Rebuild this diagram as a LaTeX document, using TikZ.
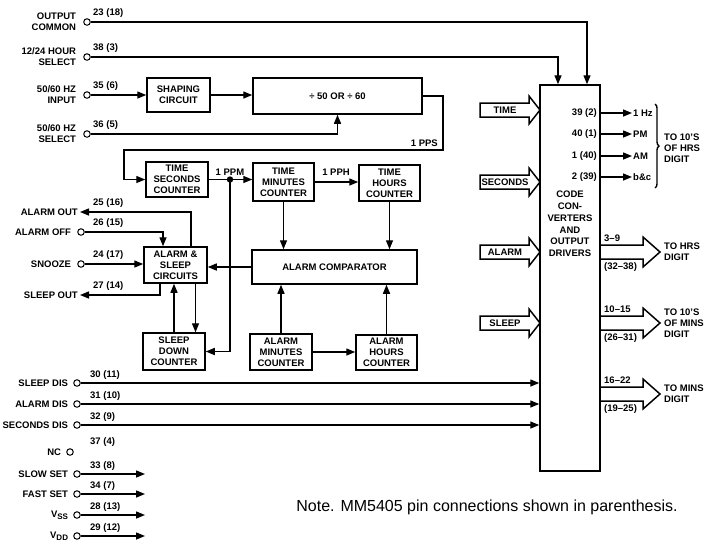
\documentclass[tikz,border=0pt]{standalone}
\usepackage{fontspec}
\setmainfont{Liberation Sans}
\usetikzlibrary{positioning,arrows.meta,decorations.pathreplacing}
\newcommand{\lbl}{\fontsize{9.5}{11}\selectfont\bfseries}
\newcommand{\subs}[1]{\raisebox{-2pt}{\fontsize{8}{9}\selectfont #1}}

\tikzset{
  blk/.style={draw,line width=1.5pt,align=center,font=\lbl,inner sep=1pt},
  pad/.style={circle,draw,line width=1pt,fill=white,inner sep=0pt,minimum size=6.5pt},
  txt/.style={font=\lbl,inner sep=1pt},
  wire/.style={line width=1.4pt},
  arr/.style={wire,-{Triangle[length=9pt,width=7pt]}},
  fat/.style={line width=1.5pt,line join=miter},
}

\begin{document}
\begin{tikzpicture}[x=1pt,y=-1pt]
\useasboundingbox (0,0) rectangle (705,542);

% blocks
\node[blk,minimum width=63pt,minimum height=34pt] (shape) at (178.5,95) {SHAPING\\CIRCUIT};
\node[blk,minimum width=169pt,minimum height=36pt] (div) at (337.5,96) {÷ 50 OR ÷ 60};
\node[blk,minimum width=62pt,minimum height=35pt] (tsec) at (177,179.5) {TIME\\SECONDS\\COUNTER};
\node[blk,minimum width=61pt,minimum height=38pt] (tmin) at (283.5,182) {TIME\\MINUTES\\COUNTER};
\node[blk,minimum width=61pt,minimum height=36pt] (thr) at (389.5,183) {TIME\\HOURS\\COUNTER};
\node[blk,minimum width=165pt,minimum height=34pt] (comp) at (334.5,267) {ALARM COMPARATOR};
\node[blk,minimum width=63pt,minimum height=36pt] (als) at (175.5,265) {ALARM \&\\SLEEP\\CIRCUITS};
\node[blk,minimum width=62pt,minimum height=37pt] (sdc) at (174,351.5) {SLEEP\\DOWN\\COUNTER};
\node[blk,minimum width=62pt,minimum height=36pt] (amin) at (281,352) {ALARM\\MINUTES\\COUNTER};
\node[blk,minimum width=61pt,minimum height=35pt] (ahr) at (386.5,352.5) {ALARM\\HOURS\\COUNTER};
\node[blk,minimum width=60pt,minimum height=386pt] (cc) at (570,278) {};
\node[txt,align=center,font=\fontsize{9.5}{11.8}\selectfont\bfseries] (cctxt) at (570,224) {CODE\\CON-\\VERTERS\\AND\\OUTPUT\\DRIVERS};

% top input pins
\foreach \nm/\y/\num/\txt in {23/22/{23 (18)}/{OUTPUT\\COMMON}, 38/57/{38 (3)}/{12/24 HOUR\\SELECT},
    35/95/{35 (6)}/{50/60 HZ\\INPUT}, 36/134/{36 (5)}/{50/60 HZ\\SELECT}} {
  \node[pad] (p\nm) at (87,\y) {};
  \node[txt,align=right,left=6pt of p\nm] (l\nm) {\txt};
  \node[txt,anchor=south west] (n\nm) at (92,\y-3) {\num};
}
\draw[arr] (p23.east) -| ([xshift=17pt]cc.north);
\draw[arr] (p38.east) -| ([xshift=-12pt]cc.north);
\draw[arr] (p35.east) -- (shape.west);
\draw[arr] (shape.east) -- (shape.east -| div.west);
\draw[arr] (p36.east) -| (div.south);

% 1 PPS loop
\coordinate (ppsa) at (443,150);
\coordinate (ppsb) at (124,150);
\draw[arr] (div.east) -| (ppsa) -- (ppsb) |- (tsec.west);
\node[txt,anchor=south east] (pps) at (439,148) {1 PPS};

% counters
\coordinate (jpm) at (230,179.5);
\draw[wire] (tsec.east) -- (jpm);
\draw[arr] (jpm) -- (jpm -| tmin.west);
\fill (jpm) circle (3.2pt);
\node[txt,above=3pt of jpm] (ppm) {1 PPM};
\draw[arr] (jpm) |- (sdc.east);
\draw[arr] (tmin.east) -- (tmin.east -| thr.west);
\node[txt] (pph) at (336,172) {1 PPH};
\draw[arr] (tmin.south) -- (tmin.south |- comp.north);
\draw[arr] (thr.south) -- (thr.south |- comp.north);
\draw[arr] (amin.north) -- (amin.north |- comp.south);
\draw[arr] (ahr.north) -- (ahr.north |- comp.south);
\draw[arr] (amin.east) -- (amin.east -| ahr.west);
\draw[arr] (comp.west) -- (comp.west -| als.east);
\draw[arr] ([xshift=20pt]als.south) -- ([xshift=20pt]als.south |- sdc.north);
\draw[arr] (sdc.north) -- (sdc.north |- als.south);

% alarm and sleep pins
\coordinate (aout) at (80,212);
\draw[arr] ([xshift=15.5pt]als.north) |- (aout);
\node[txt,left=1pt of aout] (laout) {ALARM OUT};
\node[txt,anchor=south west] (n25) at (92,209) {25 (16)};
\node[pad] (p26) at (81,232) {};
\node[txt,left=5pt of p26] (l26) {ALARM OFF};
\node[txt,anchor=south west] (n26) at (92,229) {26 (15)};
\draw[arr] (p26.east) -| ([xshift=-12.5pt]als.north);
\node[pad] (p24) at (81,264) {};
\node[txt,left=5pt of p24] (l24) {SNOOZE};
\node[txt,anchor=south west] (n24) at (92,261) {24 (17)};
\draw[arr] (p24.east) -- (p24.east -| als.west);
\coordinate (sout) at (80,295);
\draw[arr] ([xshift=-15.5pt]als.south) |- (sout);
\node[txt,left=1pt of sout] (lsout) {SLEEP OUT};
\node[txt,anchor=south west] (n27) at (92,292) {27 (14)};

% disable pins
\foreach \nm/\y/\num/\txt in {30/383/{30 (11)}/SLEEP DIS, 31/404/{31 (10)}/ALARM DIS, 32/425/{32 (9)}/SECONDS DIS} {
  \node[pad] (p\nm) at (77,\y) {};
  \node[txt,left=4pt of p\nm] (l\nm) {\txt};
  \node[txt,anchor=south west] (n\nm) at (89,\y-2) {\num};
  \draw[arr] (p\nm.east) -- (p\nm.east -| cc.west);
}
\node[pad] (p37) at (70,452) {};
\node[txt,left=4pt of p37] (l37) {NC};
\node[txt,anchor=south west] (n37) at (89,448) {37 (4)};
\foreach \nm/\y/\num/\txt in {33/474/{33 (8)}/SLOW SET, 34/494/{34 (7)}/FAST SET,
    28/515/{28 (13)}/V\subs{SS}, 29/536/{29 (12)}/V\subs{DD}} {
  \node[pad] (p\nm) at (77,\y) {};
  \node[txt,left=4pt of p\nm] (l\nm) {\txt};
  \node[txt,anchor=south west] (n\nm) at (89,\y-2) {\num};
  \coordinate (e\nm) at (145,\y);
  \draw[arr] (p\nm.east) -- (e\nm);
}

% fat inputs
\foreach \lab/\y in {TIME/110,SECONDS/182,ALARM/252,SLEEP/323} {
  \draw[fat] (480,\y-7) -- (529,\y-7) -- (529,\y-14) -- (540,\y) -- (529,\y+14) -- (529,\y+7) -- (480,\y+7) -- cycle;
  \node[txt] (f\lab) at (505,\y) {\lab};
}

% single outputs
\foreach \y/\num/\out [count=\i] in {113/{39 (2)}/1 Hz, 134/{40 (1)}/PM, 156/{1 (40)}/AM, 177/{2 (39)}/b\&c} {
  \node[txt,anchor=east] (q\i) at (598,\y) {\num};
  \node[txt,anchor=west] (o\i) at (632,\y) {\out};
  \draw[arr] (o\i.west -| cc.east) -- (o\i.west);
}
\draw[wire,decorate,decoration={brace,amplitude=4pt}] (655,104) -- (655,188);
\node[txt,anchor=west,align=left] (tohrs) at (663,148) {TO 10'S\\OF HRS\\DIGIT};

% fat outputs
\foreach \y/\up/\dn/\dest in {252/3--9/(32--38)/{TO HRS\\DIGIT}, 323/10--15/(26--31)/{TO 10'S\\OF MINS\\DIGIT}, 394/16--22/(19--25)/{TO MINS\\DIGIT}} {
  \draw[fat] (600,\y-7) -- (643,\y-7) -- (643,\y-15) -- (660,\y) -- (643,\y+15) -- (643,\y+7) -- (600,\y+7);
  \node[txt,anchor=south west] (u\y) at (603,\y-9) {\up};
  \node[txt,anchor=north west] (d\y) at (603,\y+9) {\dn};
  \node[txt,anchor=west,align=left] (t\y) at (663,\y) {\dest};
}

\node[font=\fontsize{16}{19}\selectfont] (note) at (487,507) {Note. MM5405 pin connections shown in parenthesis.};
\end{tikzpicture}
\end{document}
